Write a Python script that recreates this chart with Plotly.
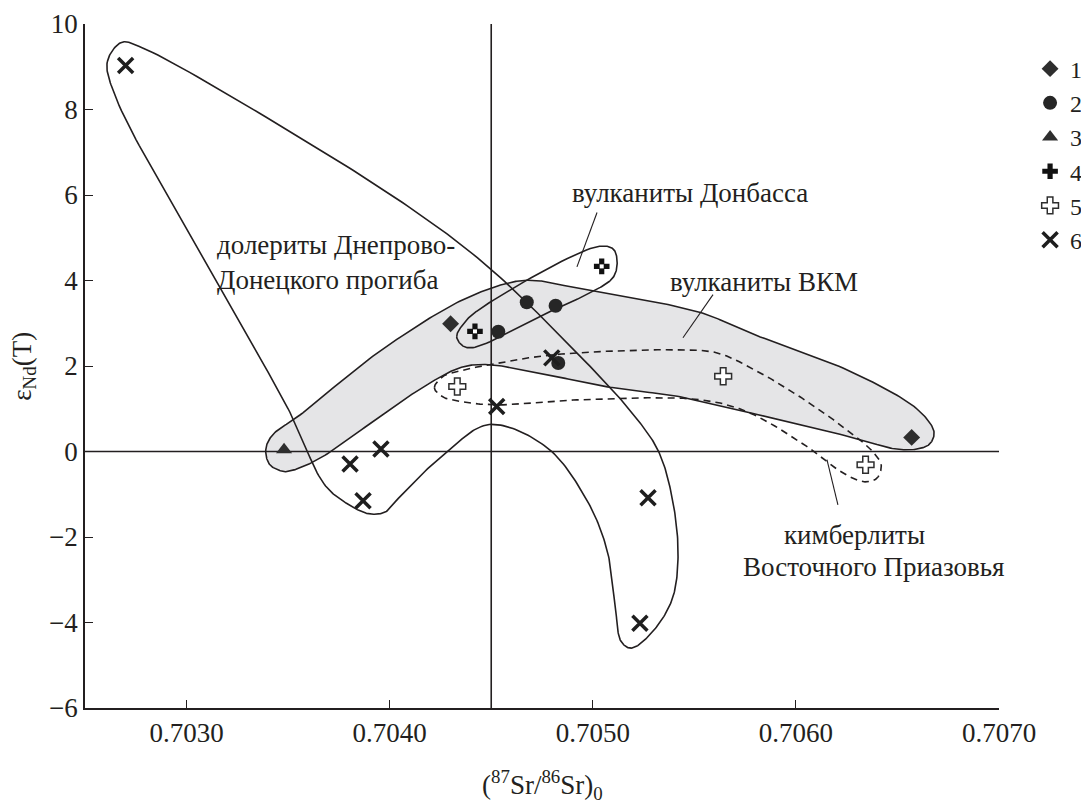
import numpy as np
import plotly.graph_objects as go

# ---- measured samples ------------------------------------------------------
sr1 = [0.70430, 0.70657]
nd1 = [2.99, 0.33]

sr2 = [0.704675, 0.704817, 0.704535, 0.70483]
nd2 = [3.49, 3.41, 2.80, 2.07]

sr3 = [0.70348]
nd3 = [0.04]

sr4 = [0.705044, 0.70442]
nd4 = [4.33, 2.81]

sr5 = [0.704333, 0.705642, 0.706343]
nd5 = [1.52, 1.76, -0.31]

sr6 = [0.70270, 0.704527, 0.704798, 0.703805, 0.703957, 0.703869, 0.705272, 0.705232]
nd6 = [9.03, 1.05, 2.19, -0.29, 0.06, -1.15, -1.08, -4.02]

legend_names = ["1", "2", "3", "4", "5", "6"]

# ---- field outlines (vertices of closed smooth contours) -------------------
dolerite_sr = [0.70261, 0.70268, 0.70277, 0.70356, 0.70415, 0.70449, 0.70494,
               0.70518, 0.70532, 0.70539, 0.70542, 0.70539, 0.70529, 0.70519,
               0.70514, 0.70511, 0.70507, 0.70497, 0.70477, 0.70449, 0.70428,
               0.70405, 0.70398, 0.70390, 0.70379, 0.70368, 0.70350, 0.70305,
               0.70265]
dolerite_nd = [9.12, 9.57, 9.47, 7.34, 5.54, 4.30, 2.22,
               0.98, 0.04, -1.06, -2.42, -3.47, -4.24, -4.60,
               -4.45, -3.59, -2.30, -1.13, 0.11, 0.63, -0.01,
               -1.06, -1.41, -1.46, -1.22, -0.78, 1.00, 4.77,
               8.30]

vkm_sr = [0.70339, 0.70342, 0.70356, 0.70395, 0.70436, 0.70461, 0.70472,
          0.70484, 0.70553, 0.70577, 0.70627, 0.70660, 0.70668, 0.70666,
          0.70660, 0.70649, 0.70627, 0.70577, 0.70543, 0.70510, 0.70477,
          0.70449, 0.70436, 0.70420, 0.70395, 0.70366, 0.70353, 0.70348,
          0.70341]
vkm_nd = [0.04, 0.37, 0.86, 2.34, 3.55, 3.97, 4.00,
          3.90, 3.25, 2.78, 1.87, 0.98, 0.46, 0.18,
          0.06, 0.06, 0.34, 0.91, 1.28, 1.49, 1.80,
          2.03, 1.98, 1.61, 0.81, -0.15, -0.43, -0.47,
          -0.31]

donbass_sr = [0.70433, 0.70436, 0.70444, 0.70502, 0.70510, 0.70512, 0.70510,
              0.70497, 0.70484, 0.70441, 0.70436]
donbass_nd = [2.68, 2.97, 3.32, 4.79, 4.74, 4.44, 4.07,
              3.67, 3.39, 2.43, 2.47]

kimb_sr = [0.70422, 0.70426, 0.70433, 0.70449, 0.70480, 0.70543, 0.70561,
           0.70577, 0.70602, 0.70627, 0.70638, 0.70642, 0.70640, 0.70634,
           0.70623, 0.70610, 0.70577, 0.70553, 0.70494, 0.70453, 0.70436,
           0.70426]
kimb_nd = [1.49, 1.75, 1.87, 2.03, 2.26, 2.38, 2.31,
           1.98, 1.28, 0.44, -0.01, -0.31, -0.62, -0.71,
           -0.50, -0.03, 0.91, 1.21, 1.21, 1.09, 1.16,
           1.28]

X_RANGE = [0.7025, 0.7070]
Y_RANGE = [-6, 10]
X_TICKS = [0.7030, 0.7040, 0.7050, 0.7060, 0.7070]
SR_REF = 0.7045

FONT = "Liberation Serif, Times New Roman, serif"
INK = "#231f20"
FS = 27


def smooth_closed(xs, ys, n=24, alpha=0.5):
    """Centripetal Catmull-Rom through the vertices, closed."""
    sx = (X_RANGE[1] - X_RANGE[0]) / 1.337
    sy = (Y_RANGE[1] - Y_RANGE[0])
    p = np.column_stack([(np.asarray(xs) - X_RANGE[0]) / sx,
                         (np.asarray(ys) - Y_RANGE[0]) / sy])
    m = len(p)
    out = []
    for i in range(m):
        P0, P1, P2, P3 = p[(i - 1) % m], p[i], p[(i + 1) % m], p[(i + 2) % m]
        t0 = 0.0
        t1 = t0 + np.linalg.norm(P1 - P0) ** alpha
        t2 = t1 + np.linalg.norm(P2 - P1) ** alpha
        t3 = t2 + np.linalg.norm(P3 - P2) ** alpha
        t = np.linspace(t1, t2, n, endpoint=False)[:, None]
        A1 = (t1 - t) / (t1 - t0) * P0 + (t - t0) / (t1 - t0) * P1
        A2 = (t2 - t) / (t2 - t1) * P1 + (t - t1) / (t2 - t1) * P2
        A3 = (t3 - t) / (t3 - t2) * P2 + (t - t2) / (t3 - t2) * P3
        B1 = (t2 - t) / (t2 - t0) * A1 + (t - t0) / (t2 - t0) * A2
        B2 = (t3 - t) / (t3 - t1) * A2 + (t - t1) / (t3 - t1) * A3
        C = (t2 - t) / (t2 - t1) * B1 + (t - t1) / (t2 - t1) * B2
        out.append(C)
    c = np.vstack(out + [out[0][:1]])
    return c[:, 0] * sx + X_RANGE[0], c[:, 1] * sy + Y_RANGE[0]


fig = go.Figure()

# shaded field of the VKM volcanics
vx, vy = smooth_closed(vkm_sr, vkm_nd)
fig.add_trace(go.Scatter(x=vx, y=vy, mode="lines", fill="toself",
                         fillcolor="#e5e5e7", line=dict(color=INK, width=1.6),
                         hoverinfo="skip", showlegend=False))

# reference lines
fig.add_trace(go.Scatter(x=[X_RANGE[0], X_RANGE[1]], y=[0, 0], mode="lines",
                         line=dict(color=INK, width=1.6), hoverinfo="skip",
                         showlegend=False))
fig.add_trace(go.Scatter(x=[SR_REF, SR_REF], y=Y_RANGE, mode="lines",
                         line=dict(color=INK, width=1.6), hoverinfo="skip",
                         showlegend=False))

# other field outlines
for xs, ys, dash in [(dolerite_sr, dolerite_nd, "solid"),
                     (donbass_sr, donbass_nd, "solid"),
                     (kimb_sr, kimb_nd, "7px,5px")]:
    cx, cy = smooth_closed(xs, ys)
    fig.add_trace(go.Scatter(x=cx, y=cy, mode="lines",
                             line=dict(color=INK, width=1.6, dash=dash),
                             hoverinfo="skip", showlegend=False))

# leader lines for the labels
leaders = [([0.705021, 0.704922], [5.59, 4.32]),
           ([0.705592, 0.705444], [3.67, 2.66]),
           ([0.706153, 0.706207], [-0.19, -1.25])]
for lx, ly in leaders:
    fig.add_trace(go.Scatter(x=lx, y=ly, mode="lines",
                             line=dict(color=INK, width=1.1),
                             hoverinfo="skip", showlegend=False))

# sample markers
fig.add_trace(go.Scatter(x=sr1, y=nd1, mode="markers", name=legend_names[0],
                         legendgroup="g1",
                         marker=dict(symbol="diamond", size=13, color="#2e2e2e")))
fig.add_trace(go.Scatter(x=sr2, y=nd2, mode="markers", name=legend_names[1],
                         legendgroup="g2",
                         marker=dict(symbol="circle", size=14, color="#262626")))
fig.add_trace(go.Scatter(x=sr3, y=nd3, mode="markers", name=legend_names[2],
                         legendgroup="g3",
                         marker=dict(symbol="triangle-up", size=14, color="#2e2e2e")))
fig.add_trace(go.Scatter(x=sr4, y=nd4, mode="markers", name=legend_names[3],
                         legendgroup="g4",
                         marker=dict(symbol="cross", size=13, color="#111111")))
fig.add_trace(go.Scatter(x=sr4, y=nd4, mode="markers", showlegend=False,
                         hoverinfo="skip",
                         marker=dict(symbol="square", size=4, color="white")))
fig.add_trace(go.Scatter(x=sr5, y=nd5, mode="markers", name=legend_names[4],
                         legendgroup="g5",
                         marker=dict(symbol="cross", size=14, color="white",
                                     line=dict(color="#2e2e2e", width=1.5))))
fig.add_trace(go.Scatter(x=sr6, y=nd6, mode="markers", name=legend_names[5],
                         legendgroup="g6",
                         marker=dict(symbol="x-thin", size=15,
                                     line=dict(color="#1e1e1e", width=3.5))))

# field labels
label_font = dict(family=FONT, size=FS, color=INK)
labels = [
    (0.70314, 4.41, "долериты Днепрово-<br>Донецкого прогиба"),
    (0.70489, 6.05, "вулканиты Донбасса"),
    (0.70537, 3.97, "вулканиты ВКМ"),
    (0.70593, -1.95, "кимберлиты"),
    (0.70573, -2.70, "Восточного Приазовья"),
]
for lx, ly, txt in labels:
    fig.add_annotation(x=lx, y=ly, text=txt, showarrow=False, xanchor="left",
                       yanchor="middle", align="left", font=label_font)

# axis titles
fig.add_annotation(xref="paper", yref="paper", x=-0.067, y=0.5,
                   text="ε<sub>Nd</sub>(T)", textangle=-90, showarrow=False,
                   xanchor="center", yanchor="middle", font=label_font)
fig.add_annotation(xref="paper", yref="paper", x=0.5, y=-0.112,
                   text="(<sup>87</sup>Sr/<sup>86</sup>Sr)<sub>0</sub>",
                   showarrow=False, xanchor="center", yanchor="middle",
                   font=label_font)

axis_common = dict(showgrid=False, zeroline=False, showline=True,
                   linecolor=INK, linewidth=1.6, ticks="inside", ticklen=8,
                   tickwidth=1.4, tickcolor=INK,
                   tickfont=dict(family=FONT, size=FS, color=INK))

fig.update_xaxes(range=X_RANGE, tickvals=X_TICKS, tickformat=".4f",
                 **axis_common)
fig.update_yaxes(range=Y_RANGE, dtick=2, tick0=0, **axis_common)

fig.update_layout(
    width=1081, height=803,
    margin=dict(l=85, r=82, t=24, b=95, autoexpand=False),
    paper_bgcolor="white", plot_bgcolor="white",
    font=dict(family=FONT, size=FS, color=INK),
    legend=dict(x=1.034, y=0.967, xanchor="left", yanchor="top",
                bgcolor="rgba(0,0,0,0)", font=dict(family=FONT, size=24, color=INK),
                tracegroupgap=0, itemwidth=30),
    showlegend=True,
)

fig.write_html("out.html")
